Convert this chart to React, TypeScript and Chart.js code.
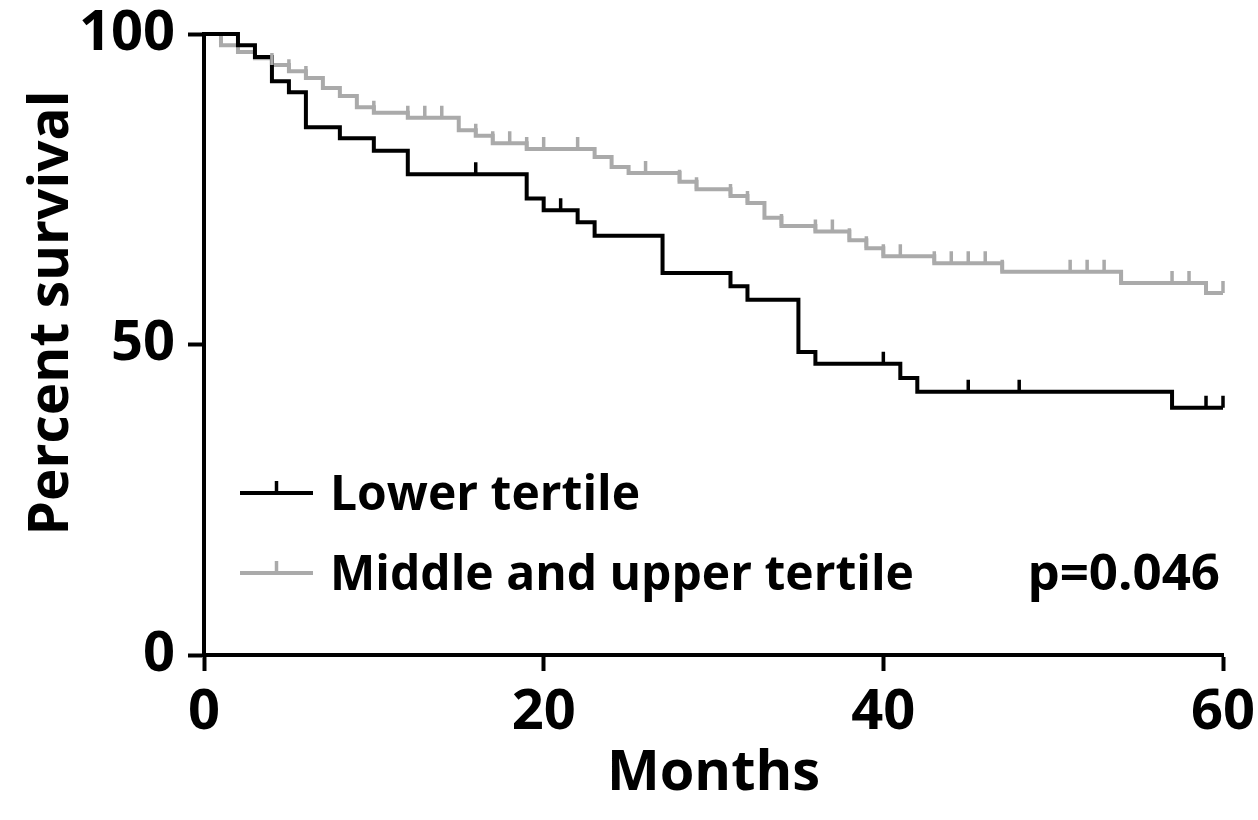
import React, { useEffect, useRef } from "react";
import { Chart, registerables } from "chart.js";

Chart.register(...registerables);

// Lower tertile (Kaplan-Meier steps)
const lowerMonths = [0, 2, 3, 4, 5, 6, 8, 10, 12, 19, 20, 22, 23, 27, 31, 32, 35, 36, 41, 42, 57, 60];
const lowerSurvival = [100, 98.2, 96.3, 92.4, 90.6, 85.0, 83.2, 81.2, 77.4, 73.5, 71.6, 69.7, 67.5, 61.5, 59.4, 57.2, 48.8, 46.9, 44.6, 42.4, 39.8, 39.8];
const lowerCensored = [16, 21, 40, 45, 48, 59, 60];

// Middle and upper tertile
const midMonths = [0, 1, 2, 3, 4, 5, 6, 7, 8, 9, 10, 12, 15, 16, 17, 19, 23, 24, 25, 28, 29, 31, 32, 33, 34, 36, 38, 39, 40, 43, 47, 54, 59, 60];
const midSurvival = [100, 98.2, 97.1, 96.1, 95.0, 94.0, 92.9, 91.3, 90.0, 88.2, 87.3, 86.5, 84.5, 83.6, 82.4, 81.5, 80.2, 78.6, 77.6, 76.2, 75.0, 73.9, 72.8, 70.4, 69.1, 68.2, 66.8, 65.5, 64.2, 63.1, 61.7, 59.9, 58.3, 58.3];
const midCensored = [4, 5, 6, 10, 12, 13, 14, 16, 17, 18, 19, 20, 22, 26, 28, 29, 31, 32, 34, 36, 37, 38, 39, 40, 41, 43, 44, 45, 46, 47, 51, 52, 53, 54, 57, 58, 59, 60];

const seriesNames = ["Lower tertile", "Middle and upper tertile"];
const seriesColors = ["#000000", "#aaaaaa"];
const xTickValues = [0, 20, 40, 60];
const yTickValues = [0, 50, 100];
const xTitle = "Months";
const yTitle = "Percent survival";
const pValueText = "p=0.046";

const FONT = '"Open Sans", "DejaVu Sans", sans-serif';

function levelAt(months: number[], surv: number[], t: number): number {
  let v = surv[0];
  for (let i = 0; i < months.length; i++) {
    if (months[i] <= t) v = surv[i];
  }
  return v;
}

const series = [
  { months: lowerMonths, surv: lowerSurvival, censor: lowerCensored, name: seriesNames[0], color: seriesColors[0] },
  { months: midMonths, surv: midSurvival, censor: midCensored, name: seriesNames[1], color: seriesColors[1] },
];

const extrasPlugin = {
  id: "kmExtras",
  afterDatasetsDraw(chart: any) {
    const { ctx, chartArea } = chart;
    const xs = chart.scales.x;
    const ys = chart.scales.y;
    ctx.save();
    // censor ticks (draw gray first, black on top)
    for (let k = series.length - 1; k >= 0; k--) {
      const s = series[k];
      ctx.strokeStyle = s.color;
      ctx.lineWidth = 3.5;
      ctx.lineCap = "butt";
      ctx.beginPath();
      for (const t of s.censor) {
        const lvl = levelAt(s.months, s.surv, t);
        const px = xs.getPixelForValue(t);
        const py = ys.getPixelForValue(lvl);
        ctx.moveTo(px, py);
        ctx.lineTo(px, py - 12);
      }
      ctx.stroke();
    }

    // legend
    const legendY = [493, 573];
    const lx0 = chartArea.left + 36;
    const lx1 = chartArea.left + 109;
    ctx.font = `bold 48px ${FONT}`;
    series.forEach((s, i) => {
      const y = legendY[i];
      ctx.strokeStyle = s.color;
      ctx.lineWidth = 4;
      ctx.beginPath();
      ctx.moveTo(lx0, y);
      ctx.lineTo(lx1, y);
      ctx.stroke();
      ctx.lineWidth = 3.5;
      ctx.beginPath();
      const mx = (lx0 + lx1) / 2;
      ctx.moveTo(mx, y);
      ctx.lineTo(mx, y - 12);
      ctx.stroke();
      ctx.fillStyle = "#000";
      ctx.textAlign = "left";
      ctx.textBaseline = "alphabetic";
      ctx.fillText(s.name, chartArea.left + 126, y + 17);
    });
    ctx.font = `bold 51px ${FONT}`;
    ctx.textAlign = "right";
    ctx.fillText(pValueText, chartArea.right - 3, legendY[1] + 17);

    // axis titles
    ctx.font = `bold 56px ${FONT}`;
    ctx.textAlign = "center";
    ctx.textBaseline = "alphabetic";
    ctx.fillText(xTitle, (chartArea.left + chartArea.right) / 2, 790);
    ctx.save();
    ctx.translate(68, 313);
    ctx.rotate(-Math.PI / 2);
    ctx.font = `bold 55px ${FONT}`;
    ctx.fillText(yTitle, 0, 0);
    ctx.restore();
    ctx.restore();
  },
};

function zeroPad(s: any) {
  s.paddingTop = 0;
  s.paddingBottom = 0;
  s.paddingLeft = 0;
  s.paddingRight = 0;
}

export default function App() {
  const ref = useRef<HTMLCanvasElement | null>(null);
  useEffect(() => {
    let chart: Chart | null = null;
    let cancelled = false;
    const make = () => {
      if (cancelled || !ref.current) return;
      const tickFont = { family: FONT, weight: "bold" as const, size: 56 };
      chart = new Chart(ref.current, {
        type: "line",
        data: {
          datasets: series.map((s, i) => ({
            label: s.name,
            data: s.months.map((m, j) => ({ x: m, y: s.surv[j] })),
            borderColor: s.color,
            backgroundColor: s.color,
            borderWidth: 4,
            pointRadius: 0,
            stepped: "before" as const,
            fill: false,
            clip: false as any,
            borderCapStyle: "butt" as const,
            borderJoinStyle: "miter" as const,
            order: i,
          })),
        },
        options: {
          animation: false,
          responsive: false,
          devicePixelRatio: 1,
          layout: { padding: { left: 0, top: 34, right: 35, bottom: 0 } },
          plugins: { legend: { display: false }, tooltip: { enabled: false } },
          scales: {
            x: {
              type: "linear",
              min: 0,
              max: 60,
              afterBuildTicks: (s: any) => {
                s.ticks = xTickValues.map((v) => ({ value: v }));
              },
              afterFit: (s: any) => {
                s.height = 165;
                zeroPad(s);
              },
              ticks: { font: tickFont, color: "#000", padding: 8, maxRotation: 0, autoSkip: false },
              grid: { display: true, drawOnChartArea: false, drawTicks: true, tickLength: 16, tickWidth: 4, tickColor: "#000" },
              border: { display: true, color: "#000", width: 4 },
            },
            y: {
              type: "linear",
              min: 0,
              max: 100,
              afterBuildTicks: (s: any) => {
                s.ticks = yTickValues.map((v) => ({ value: v }));
              },
              afterFit: (s: any) => {
                s.width = 204;
                zeroPad(s);
              },
              ticks: { font: tickFont, color: "#000", padding: 13, autoSkip: false },
              grid: { display: true, drawOnChartArea: false, drawTicks: true, tickLength: 16, tickWidth: 4, tickColor: "#000" },
              border: { display: true, color: "#000", width: 4 },
            },
          },
        },
        plugins: [extrasPlugin],
      });
    };
    const fontsApi = (document as any).fonts;
    if (fontsApi && fontsApi.load) {
      Promise.all([fontsApi.load(`bold 56px "Open Sans"`), fontsApi.load(`bold 48px "Open Sans"`)])
        .catch(() => {})
        .then(make);
    } else {
      make();
    }
    return () => {
      cancelled = true;
      if (chart) chart.destroy();
    };
  }, []);
  return (
    <div style={{ position: "absolute", left: 0, top: 0, width: 1258, height: 820, background: "#fff" }}>
      <canvas ref={ref} width={1258} height={820} style={{ width: 1258, height: 820, display: "block" }} />
    </div>
  );
}
